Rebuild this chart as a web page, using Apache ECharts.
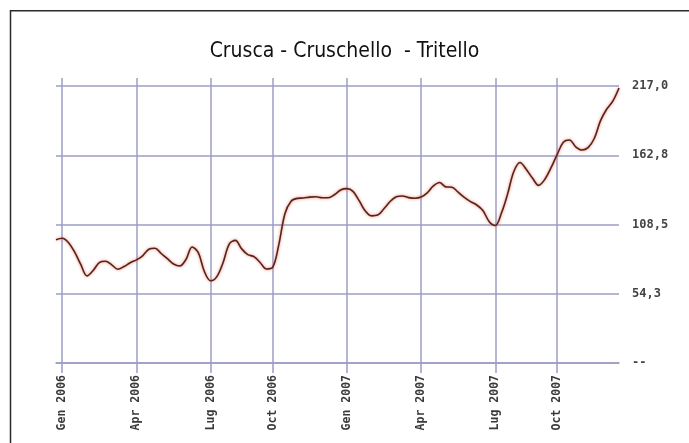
<!DOCTYPE html>
<html>
<head>
<meta charset="utf-8">
<script src="https://cdn.jsdelivr.net/npm/echarts@6/dist/echarts.min.js"></script>
<style>html,body{margin:0;padding:0;background:#fff}#c{width:689px;height:443px}</style>
</head>
<body>
<div id="c"></div>
<script>
const values = [
  96.5, 97.7, 94.4, 87.0, 77.2, 68.3, 72.5, 78.7, 79.7, 76.9,
  73.5, 75.6, 78.6, 80.8, 84.0, 89.1, 89.9, 85.8, 81.7, 77.6,
  76.0, 81.1, 90.9, 86.4, 71.5, 64.4, 67.7, 78.6, 93.2, 96.1,
  89.5, 84.9, 83.4, 78.7, 73.7, 74.8, 92.4, 117.0, 126.8, 129.0,
  129.3, 130.0, 130.3, 129.5, 129.5, 131.8, 135.5, 136.6, 134.5, 127.2,
  119.0, 115.3, 115.9, 120.8, 126.5, 130.2, 130.9, 129.6, 129.1, 130.0,
  133.3, 138.7, 141.4, 138.0, 137.7, 133.8, 129.7, 126.4, 123.8, 119.5,
  110.9, 107.7, 117.5, 132.5, 150.0, 157.1, 151.8, 144.9, 139.2, 143.8,
  152.8, 163.3, 173.0, 174.7, 169.4, 166.9, 168.7, 175.9, 189.7, 198.8,
  205.2, 215.5
];
// Tick labels and the observation index where each one sits
const tickLabels = ['Gen 2006', 'Apr 2006', 'Lug 2006', 'Oct 2006', 'Gen 2007', 'Apr 2007', 'Lug 2007', 'Oct 2007'];
const tickIndex = [1, 13, 25, 35, 47, 59, 71, 81];
// Categories: one per observation
const categories = values.map((v, i) => 'obs' + i);
const yTicks = [0, 54.25, 108.5, 162.75, 217.0];

const labelAt = {};
tickIndex.forEach((idx, k) => { labelAt[idx] = tickLabels[k]; });
const isTick = (i) => labelAt[i] !== undefined;

const gridColor = '#9c9cc6';
const chart = echarts.init(document.getElementById('c'), null, {renderer: 'canvas'});
chart.setOption({
  animation: false,
  backgroundColor: '#ffffff',
  title: {
    text: 'Crusca - Cruschello  - Tritello',
    left: 'center',
    top: 36,
    textStyle: {fontFamily: 'Liberation Sans Narrow, DejaVu Sans Condensed, Liberation Sans', fontSize: 21, fontWeight: 'normal', color: '#111'}
  },
  graphic: [{
    type: 'rect',
    shape: {x: 10.5, y: 10.75, width: 720, height: 500},
    style: {fill: 'none', stroke: '#2a2a2a', lineWidth: 1.5},
    silent: true
  }],
  grid: {left: 56, right: 70, top: 78, bottom: 80, containLabel: false},
  xAxis: {
    type: 'category',
    data: categories,
    boundaryGap: false,
    axisLine: {show: true, lineStyle: {color: gridColor, width: 1.5}},
    axisTick: {show: true, length: 10, interval: (i) => isTick(i), lineStyle: {color: gridColor, width: 1.5}},
    splitLine: {show: true, interval: (i) => isTick(i), lineStyle: {color: gridColor, width: 1.5}},
    axisLabel: {
      interval: (i) => isTick(i),
      rotate: 90,
      margin: 12,
      formatter: (v, i) => labelAt[i] || '',
      fontFamily: 'DejaVu Sans Mono',
      fontWeight: 'bold',
      fontSize: 11.5,
      color: '#3a3a3a'
    }
  },
  yAxis: {
    type: 'value',
    position: 'right',
    min: 0,
    max: 223.3,
    interval: 54.25,
    axisLine: {show: false},
    axisTick: {show: false},
    splitLine: {show: true, lineStyle: {color: [gridColor, gridColor, gridColor, gridColor, gridColor, 'rgba(0,0,0,0)'], width: 1.5}},
    axisLabel: {
      showMaxLabel: false,
      margin: 13,
      fontFamily: 'DejaVu Sans Mono',
      fontWeight: 'bold',
      fontSize: 12,
      color: '#444',
      formatter: (v) => {
        if (v === 0) return '--';
        if (!yTicks.some(t => Math.abs(t - v) < 1e-6)) return '';
        return v.toFixed(1).replace('.', ',');
      }
    }
  },
  series: [{
    type: 'line',
    data: values,
    smooth: 0.35,
    showSymbol: false,
    lineStyle: {color: '#5a2219', width: 1.6, shadowColor: 'rgba(225,110,90,0.9)', shadowBlur: 3}
  }]
});
</script>
</body>
</html>
